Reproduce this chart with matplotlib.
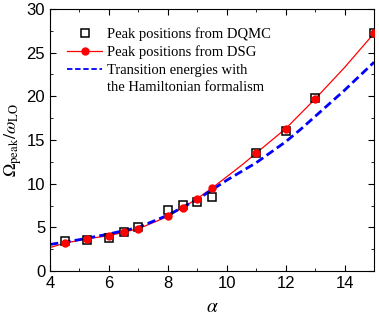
import matplotlib.pyplot as plt

# ----------------------------
# data
# ----------------------------
alpha_pts = [4.5, 5.25, 6.0, 6.5, 7.0, 8.0, 8.5, 9.0, 9.5, 11.0, 12.0, 13.0, 15.0]
dqmc = [3.4, 3.55, 3.8, 4.5, 5.0, 7.0, 7.6, 7.9, 8.5, 13.5, 16.05, 19.8, 27.2]
dsg = [3.2, 3.7, 4.05, 4.45, 4.85, 6.25, 7.25, 8.3, 9.5, 13.5, 16.3, 19.7, 27.2]

# smooth DSG guide line
alpha_red = [4.0, 4.5, 5.25, 6.0, 6.5, 7.0, 8.0, 8.5, 9.0, 9.5, 10.0, 10.5, 11.0, 12.0, 13.0, 14.0, 15.0]
red_line = [2.7, 3.2, 3.7, 4.05, 4.45, 4.85, 6.25, 7.25, 8.3, 9.5, 10.8, 12.1, 13.5, 16.3, 19.7, 23.3, 27.2]

# Hamiltonian transition energies
alpha_blue = [4.0, 5.0, 6.0, 7.0, 7.5, 8.0, 8.5, 9.0, 9.5, 10.0, 10.5, 11.0, 11.5, 12.0, 12.5, 13.0, 14.0, 15.0]
blue_line = [3.05, 3.6, 4.25, 5.0, 5.7, 6.4, 7.3, 8.2, 9.3, 10.4, 11.4, 12.4, 13.6, 14.8, 16.2, 17.7, 20.7, 23.9]

plt.rcParams['mathtext.fontset'] = 'stix'

fig = plt.figure(figsize=(3.79, 3.16), dpi=100)
ax = fig.add_axes([0.132, 0.142, 0.855, 0.830])

ax.plot(alpha_pts, dqmc, 's', mfc='none', mec='black', ms=5.8, mew=1.1,
        label='Peak positions from DQMC', zorder=3)
ax.plot(alpha_red, red_line, '-', color='red', lw=0.9, zorder=2)
ax.plot(alpha_pts, dsg, 'o', color='red', ms=5, zorder=4)
ax.plot([], [], '-o', color='red', lw=0.9, ms=5, label='Peak positions from DSG')
ax.plot(alpha_blue, blue_line, '--', color='blue', lw=2, dashes=(3, 1.5),
        label='Transition energies with', zorder=2)
ax.plot([], [], ' ', label='the Hamiltonian formalism')

ax.set_xlim(4, 15)
ax.set_ylim(0, 30)
ax.set_xticks([4, 6, 8, 10, 12, 14])
ax.set_xticks([5, 7, 9, 11, 13, 15], minor=True)
ax.set_yticks([0, 5, 10, 15, 20, 25, 30])
ax.set_yticks([2.5, 7.5, 12.5, 17.5, 22.5, 27.5], minor=True)
ax.tick_params(which='both', direction='in', top=True, right=True, labelsize=12)
ax.tick_params(which='major', length=4)
ax.tick_params(which='minor', length=2.5)
for lbl in ax.get_xticklabels() + ax.get_yticklabels():
    lbl.set_fontfamily('Liberation Sans')

ax.set_xlabel(r'$\alpha$', fontsize=14)
ax.set_ylabel(r'$\Omega_{\rm peak}/\omega_{\rm LO}$', fontsize=13, labelpad=2)

leg = ax.legend(loc='upper left', bbox_to_anchor=(0.035, 0.952), frameon=False,
                prop={'family': 'Liberation Serif', 'size': 10.5},
                handlelength=2.4, handletextpad=0.3, labelspacing=0.3,
                borderaxespad=0)
for h in leg.get_lines():
    if h.get_linestyle() == '--':
        h.set_linewidth(1.3)

fig.savefig('out.png', dpi=100)
